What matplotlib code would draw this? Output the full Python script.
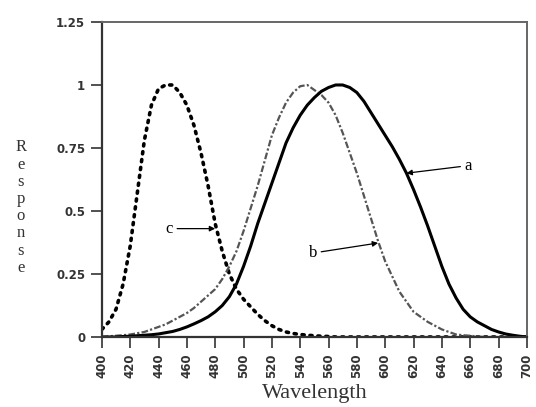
import matplotlib
matplotlib.use("Agg")
from matplotlib import pyplot as plt

# wavelength grid (5 nm) and curves
wavelength = list(range(400, 701, 5))
curve_a = [0.0, 0.0, 0.0, 0.002, 0.003, 0.005, 0.007, 0.009, 0.012, 0.017,
           0.022, 0.03, 0.04, 0.052, 0.065, 0.08, 0.1, 0.125, 0.16, 0.21,
           0.28, 0.36, 0.45, 0.53, 0.61, 0.69, 0.77, 0.83, 0.88, 0.92,
           0.95, 0.975, 0.99, 1.0, 1.0, 0.99, 0.97, 0.935, 0.89, 0.845,
           0.80, 0.755, 0.705, 0.65, 0.585, 0.515, 0.44, 0.36, 0.28, 0.21,
           0.155, 0.11, 0.08, 0.06, 0.045, 0.03, 0.02, 0.012, 0.007, 0.003,
           0.0]
curve_b = [0.0, 0.003, 0.005, 0.007, 0.01, 0.015, 0.02, 0.03, 0.04, 0.05,
           0.065, 0.08, 0.095, 0.115, 0.14, 0.165, 0.19, 0.23, 0.28, 0.34,
           0.42, 0.51, 0.6, 0.7, 0.8, 0.87, 0.93, 0.97, 0.995, 1.0,
           0.98, 0.96, 0.93, 0.88, 0.81, 0.73, 0.65, 0.56, 0.47, 0.38,
           0.3, 0.24, 0.18, 0.14, 0.1, 0.08, 0.06, 0.045, 0.03, 0.02,
           0.01, 0.007, 0.005, 0.002, 0.0, 0.0, 0.0, 0.0, 0.0, 0.0,
           0.0]
curve_c = [0.03, 0.06, 0.11, 0.21, 0.36, 0.57, 0.78, 0.92, 0.985, 1.0,
           1.0, 0.97, 0.92, 0.84, 0.73, 0.6, 0.45, 0.34, 0.25, 0.19,
           0.15, 0.12, 0.09, 0.065, 0.045, 0.03, 0.02, 0.014, 0.01, 0.007,
           0.005, 0.003, 0.002, 0.0, 0.0, 0.0, 0.0, 0.0, 0.0, 0.0,
           0.0, 0.0, 0.0, 0.0, 0.0, 0.0, 0.0, 0.0, 0.0, 0.0,
           0.0, 0.0, 0.0, 0.0, 0.0, 0.0, 0.0, 0.0, 0.0, 0.0,
           0.0]

x_ticks = list(range(400, 701, 20))
y_ticks = [0, 0.25, 0.5, 0.75, 1, 1.25]
y_labels = ["0", "0.25", "0.5", "0.75", "1", "1.25"]

plt.rcParams['font.family'] = ['Liberation Serif', 'DejaVu Serif']
tick_font = dict(family='DejaVu Sans', fontsize=8.5, fontweight='bold', color='#333333')

fig = plt.figure(figsize=(5.36, 4.07), dpi=100)
ax = fig.add_axes([0.19, 0.172, 0.793, 0.774])

ax.plot(wavelength, curve_c, color='black', lw=2.6, linestyle=(0, (0.6, 1.6)),
        dash_capstyle='round')
ax.plot(wavelength, curve_b, color='#555555', lw=1.6, linestyle=(0, (3, 1, 1, 1)))
ax.plot(wavelength, curve_a, color='black', lw=2.2)

ax.set_xlim(400, 700)
ax.set_ylim(0, 1.25)
ax.set_xticks(x_ticks)
ax.set_xticklabels([str(t) for t in x_ticks], rotation=90, **tick_font)
ax.set_yticks(y_ticks)
ax.set_yticklabels(y_labels, **tick_font)
ax.tick_params(direction='out', length=8, width=1.2, colors='#333333', pad=4)

for side in ['left', 'bottom']:
    ax.spines[side].set_linewidth(1.6)
    ax.spines[side].set_color('#333333')
for side in ['top', 'right']:
    ax.spines[side].set_linewidth(1.4)
    ax.spines[side].set_color('#666666')

ax.set_xlabel('Wavelength', fontsize=16, labelpad=4, color='#333333')
fig.text(0.039, 0.49, '\n'.join('Response'), fontsize=12, ha='center',
         va='center', linespacing=1.1, color='#333333')

arrow = dict(arrowstyle='-|>', lw=0.9, color='black', mutation_scale=8, shrinkA=1, shrinkB=0)
ax.annotate('a', xy=(615, 0.65), xytext=(656, 0.68), fontsize=12,
            va='center', arrowprops=arrow)
ax.annotate('b', xy=(595, 0.373), xytext=(546, 0.333), fontsize=12,
            va='center', arrowprops=arrow)
ax.annotate('c', xy=(480, 0.43), xytext=(445, 0.43), fontsize=12,
            va='center', arrowprops=arrow)

fig.savefig('out.png', dpi=100)
